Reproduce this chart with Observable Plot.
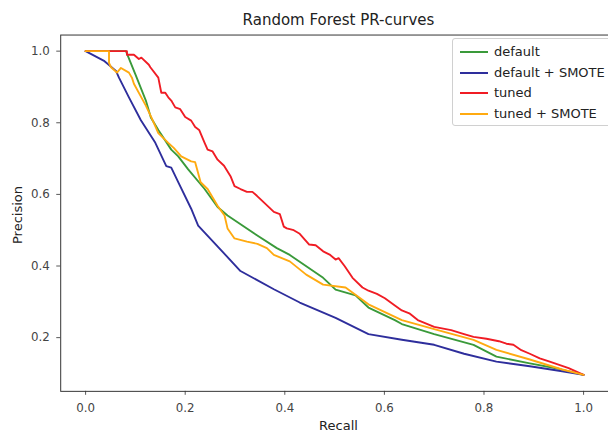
<!DOCTYPE html>
<html><head><meta charset="utf-8">
<script src="https://cdn.jsdelivr.net/npm/d3@7"></script>
<script src="https://cdn.jsdelivr.net/npm/@observablehq/plot@0.6"></script>
<style>
body{margin:0;background:#fff;font-family:"DejaVu Sans",sans-serif;color:#222;}
#wrap{position:relative;width:608px;height:434px;overflow:hidden;}
#chart{position:absolute;left:0;top:0;}
.t{position:absolute;white-space:nowrap;}
#legend{position:absolute;left:452px;top:38px;width:170px;height:86px;border:1px solid #d0d0d0;border-radius:3px;background:rgba(255,255,255,0.85);}
.row{position:absolute;left:7px;height:16px;font-size:13px;line-height:16px;}
.sw{position:absolute;left:0;top:7px;width:28px;height:2px;}
.lab{position:absolute;left:34px;top:0;white-space:nowrap;color:#222;}
</style></head><body>
<div id="wrap">
<div id="chart"></div>
<div class="t" id="title" style="left:0;width:677px;top:11px;text-align:center;font-size:15px;">Random Forest PR-curves</div>
<div class="t" style="left:0;width:677px;top:418px;height:16px;line-height:15px;text-align:center;font-size:13px;">Recall</div>
<div class="t" style="left:17px;top:215px;font-size:13px;transform:translate(-50%,-50%) rotate(-90deg);">Precision</div>
<div id="legend"></div>
</div>
<script>
const seriesNames = ["default", "default + SMOTE", "tuned", "tuned + SMOTE"];
const seriesColors = ["#3a9a3a", "#2e2e9c", "#f01c24", "#ffaa10"];

const defaultRecall = [0, 0.081, 0.10, 0.121, 0.131, 0.146, 0.172, 0.186, 0.206, 0.239, 0.265, 0.285, 0.344, 0.384, 0.41, 0.477, 0.502, 0.542, 0.568, 0.621, 0.635, 0.70, 0.779, 0.825, 0.892, 0.95, 1.0];
const defaultPrecision = [1.0, 1.0, 0.935, 0.862, 0.815, 0.78, 0.725, 0.706, 0.67, 0.615, 0.565, 0.541, 0.486, 0.45, 0.431, 0.367, 0.334, 0.318, 0.284, 0.249, 0.238, 0.21, 0.18, 0.147, 0.128, 0.113, 0.096];

const smoteRecall = [0, 0.038, 0.061, 0.067, 0.087, 0.111, 0.14, 0.162, 0.172, 0.186, 0.212, 0.226, 0.311, 0.378, 0.43, 0.502, 0.568, 0.635, 0.70, 0.76, 0.825, 0.892, 0.957, 1.0];
const smotePrecision = [1.0, 0.972, 0.945, 0.926, 0.871, 0.807, 0.744, 0.679, 0.675, 0.634, 0.56, 0.513, 0.386, 0.335, 0.298, 0.255, 0.21, 0.194, 0.18, 0.155, 0.133, 0.12, 0.106, 0.096];

const tunedRecall = [0, 0.083, 0.083, 0.097, 0.107, 0.112, 0.127, 0.13, 0.146, 0.152, 0.16, 0.166, 0.172, 0.18, 0.19, 0.20, 0.212, 0.22, 0.228, 0.239, 0.245, 0.255, 0.265, 0.278, 0.291, 0.299, 0.311, 0.324, 0.335, 0.344, 0.36, 0.378, 0.39, 0.398, 0.404, 0.418, 0.43, 0.449, 0.462, 0.477, 0.49, 0.502, 0.508, 0.52, 0.536, 0.556, 0.568, 0.585, 0.601, 0.621, 0.635, 0.65, 0.667, 0.70, 0.734, 0.76, 0.779, 0.805, 0.83, 0.845, 0.859, 0.875, 0.892, 0.912, 0.932, 0.97, 1.0];
const tunedPrecision = [1.0, 1.0, 0.99, 0.99, 0.978, 0.982, 0.962, 0.955, 0.926, 0.884, 0.884, 0.871, 0.862, 0.843, 0.838, 0.816, 0.806, 0.788, 0.78, 0.744, 0.725, 0.72, 0.697, 0.68, 0.651, 0.623, 0.615, 0.607, 0.607, 0.596, 0.575, 0.551, 0.545, 0.51, 0.505, 0.50, 0.49, 0.46, 0.458, 0.441, 0.432, 0.418, 0.422, 0.40, 0.367, 0.34, 0.331, 0.322, 0.31, 0.29, 0.276, 0.268, 0.249, 0.23, 0.221, 0.21, 0.202, 0.197, 0.19, 0.183, 0.18, 0.165, 0.155, 0.142, 0.133, 0.115, 0.096];

const tunedSmoteRecall = [0, 0.047, 0.047, 0.051, 0.063, 0.071, 0.087, 0.093, 0.097, 0.113, 0.121, 0.133, 0.146, 0.166, 0.177, 0.192, 0.212, 0.22, 0.231, 0.245, 0.265, 0.279, 0.285, 0.299, 0.324, 0.345, 0.364, 0.378, 0.41, 0.443, 0.477, 0.522, 0.568, 0.635, 0.70, 0.779, 0.825, 0.892, 0.957, 1.0];
const tunedSmotePrecision = [1.0, 1.0, 0.967, 0.955, 0.94, 0.953, 0.94, 0.926, 0.909, 0.868, 0.848, 0.812, 0.771, 0.744, 0.73, 0.706, 0.692, 0.69, 0.634, 0.615, 0.568, 0.541, 0.505, 0.477, 0.468, 0.462, 0.45, 0.431, 0.413, 0.376, 0.348, 0.34, 0.293, 0.249, 0.224, 0.194, 0.166, 0.139, 0.111, 0.096];

const xTicks = [0, 0.2, 0.4, 0.6, 0.8, 1.0];
const yTicks = [0.2, 0.4, 0.6, 0.8, 1.0];

const recalls = [defaultRecall, smoteRecall, tunedRecall, tunedSmoteRecall];
const precisions = [defaultPrecision, smotePrecision, tunedPrecision, tunedSmotePrecision];
const rows = [];
seriesNames.forEach((name, i) => {
  recalls[i].forEach((r, j) => rows.push({series: name, recall: r, precision: precisions[i][j]}));
});

const plot = Plot.plot({
  width: 616,
  height: 434,
  marginLeft: 61,
  marginRight: 0,
  marginTop: 35,
  marginBottom: 38,
  style: {fontFamily: "DejaVu Sans, sans-serif", fontSize: "12px", color: "#333", background: "#fff"},
  x: {domain: [-0.05, 1.05]},
  y: {domain: [0.05, 1.045]},
  color: {domain: seriesNames, range: seriesColors},
  marks: [
    Plot.axisX({ticks: xTicks, tickFormat: d3.format(".1f"), tickSize: 4, tickPadding: 8, label: null, stroke: "#555", fill: "#444"}),
    Plot.axisY({ticks: yTicks, tickFormat: d3.format(".1f"), tickSize: 4, tickPadding: 7, label: null, stroke: "#555", fill: "#444"}),
    Plot.line(rows, {x: "recall", y: "precision", z: "series", stroke: "series", strokeWidth: 1.9, strokeLinejoin: "round"}),
    Plot.frame({stroke: "#333", strokeWidth: 1})
  ]
});
document.getElementById("chart").appendChild(plot);

const legend = document.getElementById("legend");
seriesNames.forEach((name, i) => {
  const row = document.createElement("div");
  row.className = "row";
  row.style.top = (5 + i * 20.7) + "px";
  row.innerHTML = `<div class="sw" style="background:${seriesColors[i]}"></div><div class="lab">${name}</div>`;
  legend.appendChild(row);
});
</script>
</body></html>
